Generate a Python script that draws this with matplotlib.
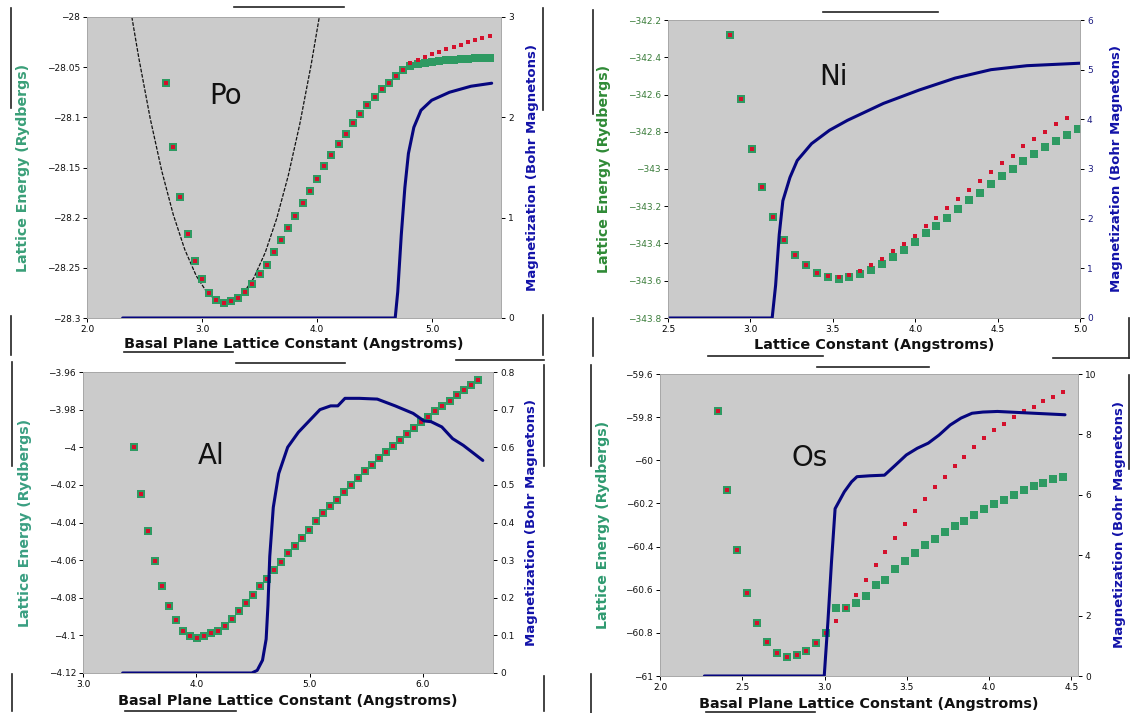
import numpy as np
import matplotlib
matplotlib.use('Agg')
import matplotlib.pyplot as plt
from matplotlib.lines import Line2D
from matplotlib.ticker import FuncFormatter

W, H = 1132, 713

# ---------------- Po ----------------
po_x = [2.6875, 2.75, 2.8125, 2.875, 2.9375, 3.0, 3.0625, 3.125, 3.1875, 3.25,
        3.3125, 3.375, 3.4375, 3.5, 3.5625, 3.625, 3.6875, 3.75, 3.8125, 3.875,
        3.9375, 4.0, 4.0625, 4.125, 4.1875, 4.25, 4.3125, 4.375, 4.4375, 4.5,
        4.5625, 4.625, 4.6875, 4.75, 4.8125, 4.875, 4.9375, 5.0, 5.0625, 5.125,
        5.1875, 5.25, 5.3125, 5.375, 5.4375, 5.5]
po_green = [-28.066, -28.130, -28.179, -28.216, -28.243, -28.261, -28.275, -28.282,
            -28.285, -28.283, -28.280, -28.274, -28.266, -28.256, -28.247, -28.234,
            -28.222, -28.210, -28.198, -28.185, -28.173, -28.161, -28.149, -28.138,
            -28.127, -28.117, -28.106, -28.097, -28.088, -28.080, -28.072, -28.066,
            -28.059, -28.053, -28.0485, -28.0468, -28.0455, -28.0445, -28.0437,
            -28.0430, -28.0425, -28.0420, -28.0416, -28.0413, -28.0410, -28.0407]
po_red = po_green[:34] + [-28.0462, -28.0429, -28.0395, -28.0368, -28.0345, -28.0321,
                          -28.0301, -28.0278, -28.0254, -28.0234, -28.0211, -28.0187]
po_mag_x = [2.31, 4.68, 4.702, 4.733, 4.764, 4.795, 4.842, 4.904, 4.997, 5.152, 5.339, 5.519]
po_mag = [0, 0, 0.26, 0.83, 1.30, 1.64, 1.90, 2.07, 2.17, 2.25, 2.31, 2.34]
po_fit_x = [2.39, 2.45, 2.55, 2.65, 2.75, 2.85, 2.95, 3.05, 3.15, 3.25, 3.35,
            3.45, 3.55, 3.65, 3.75, 3.85, 3.95, 4.02]
po_fit = [-28.000, -28.0405, -28.1013, -28.1534, -28.1969, -28.2317, -28.258, -28.2757,
          -28.2847, -28.2851, -28.2769, -28.2602, -28.2347, -28.2007, -28.1581,
          -28.1069, -28.047, -28.000]

# ---------------- Ni ----------------
ni_x = [2.875, 2.941, 3.007, 3.073, 3.139, 3.205, 3.271, 3.337, 3.403, 3.469, 3.535,
        3.601, 3.667, 3.733, 3.799, 3.865, 3.931, 3.997, 4.063, 4.129, 4.195, 4.261,
        4.327, 4.393, 4.459, 4.525, 4.591, 4.657, 4.723, 4.789, 4.855, 4.921, 4.987]
ni_green = [-342.281, -342.624, -342.892, -343.099, -343.258, -343.379, -343.464,
            -343.517, -343.559, -343.582, -343.590, -343.579, -343.565, -343.541,
            -343.509, -343.475, -343.433, -343.392, -343.346, -343.307, -343.262,
            -343.217, -343.168, -343.128, -343.082, -343.040, -343.000, -342.955,
            -342.922, -342.883, -342.852, -342.816, -342.784]
ni_red = ni_green[:9] + [-343.572, -343.578, -343.569, -343.547, -343.518, -343.482,
                         -343.442, -343.403, -343.358, -343.307, -343.262, -343.211,
                         -343.159, -343.112, -343.063, -343.018, -342.969, -342.928,
                         -342.879, -342.838, -342.801, -342.760, -342.724]
ni_mag_x = [2.5, 3.132, 3.153, 3.175, 3.197, 3.24, 3.284, 3.371, 3.48, 3.589, 3.807,
            4.024, 4.242, 4.46, 4.678, 5.0]
ni_mag = [0, 0, 0.66, 1.68, 2.36, 2.83, 3.17, 3.51, 3.78, 3.98, 4.32, 4.59, 4.83,
          5.0, 5.08, 5.13]

# ---------------- Al ----------------
al_x = [3.446, 3.508, 3.570, 3.632, 3.694, 3.756, 3.818, 3.880, 3.942, 4.004, 4.066,
        4.128, 4.190, 4.252, 4.314, 4.376, 4.438, 4.500, 4.562, 4.624, 4.686, 4.748,
        4.810, 4.872, 4.934, 4.996, 5.058, 5.120, 5.182, 5.244, 5.306, 5.368, 5.430,
        5.492, 5.554, 5.616, 5.678, 5.740, 5.802, 5.864, 5.926, 5.988, 6.050, 6.112,
        6.174, 6.236, 6.298, 6.360, 6.422, 6.484]
al_green = [-4.000, -4.0248, -4.0445, -4.0605, -4.074, -4.0845, -4.092, -4.0975,
            -4.1004, -4.1013, -4.1002, -4.099, -4.0975, -4.095, -4.0913, -4.087,
            -4.083, -4.0788, -4.074, -4.070, -4.0655, -4.061, -4.056, -4.0525, -4.048,
            -4.044, -4.039, -4.035, -4.031, -4.028, -4.024, -4.020, -4.0163, -4.0127,
            -4.0093, -4.0057, -4.0025, -3.9993, -3.996, -3.9929, -3.9896, -3.9868,
            -3.9838, -3.9807, -3.978, -3.9752, -3.9723, -3.9695, -3.9668, -3.9643]
al_red = list(al_green)
al_mag_x = [3.35, 4.49, 4.538, 4.585, 4.617, 4.633, 4.649, 4.68, 4.728, 4.807, 4.902,
            4.997, 5.092, 5.187, 5.25, 5.313, 5.44, 5.598, 5.756, 5.915, 6.01, 6.073,
            6.168, 6.263, 6.358, 6.453, 6.53]
al_mag = [0, 0, 0.007, 0.034, 0.09, 0.18, 0.31, 0.44, 0.53, 0.60, 0.64, 0.67, 0.70,
          0.71, 0.71, 0.73, 0.73, 0.728, 0.71, 0.69, 0.67, 0.668, 0.654, 0.623, 0.605,
          0.583, 0.565]

# ---------------- Os ----------------
os_x = [2.35, 2.41, 2.47, 2.53, 2.59, 2.65, 2.71, 2.77, 2.83, 2.89, 2.95, 3.01,
        3.07, 3.13, 3.19, 3.25, 3.31, 3.37, 3.43, 3.49, 3.55, 3.61, 3.67, 3.73,
        3.79, 3.85, 3.91, 3.97, 4.03, 4.09, 4.15, 4.21, 4.27, 4.33, 4.39, 4.45]
os_green = [-59.771, -60.137, -60.415, -60.616, -60.752, -60.842, -60.892, -60.911,
            -60.904, -60.882, -60.845, -60.802, -60.687, -60.687, -60.662, -60.631,
            -60.578, -60.555, -60.504, -60.465, -60.432, -60.395, -60.364, -60.333,
            -60.305, -60.280, -60.252, -60.227, -60.204, -60.182, -60.162, -60.139,
            -60.120, -60.103, -60.088, -60.077]
os_red = os_green[:12] + [-60.744, -60.687, -60.625, -60.553, -60.485, -60.423,
                          -60.361, -60.297, -60.235, -60.181, -60.126, -60.077,
                          -60.027, -59.984, -59.939, -59.898, -59.861, -59.831,
                          -59.800, -59.771, -59.751, -59.727, -59.706, -59.684]
os_mag_x = [2.27, 2.998, 3.02, 3.042, 3.064, 3.12, 3.164, 3.197, 3.275, 3.364, 3.43,
            3.497, 3.563, 3.63, 3.696, 3.763, 3.829, 3.896, 3.962, 4.051, 4.273, 4.461]
os_mag = [0, 0, 1.77, 3.77, 5.54, 6.10, 6.43, 6.6, 6.63, 6.65, 6.98, 7.32, 7.54, 7.71,
          7.98, 8.31, 8.54, 8.7, 8.74, 8.76, 8.7, 8.65]

GREEN = '#2e9a62'
RED = '#d4102c'
BLUE = '#06067e'
BG = '#cbcbcb'


def minus_fmt(v, pos):
    return ('%g' % round(v, 4)).replace('-', '\u2212')


fig = plt.figure(figsize=(W / 100, H / 100), dpi=100)


def draw_panel(box, x, green, red, mag_x, mag, xlim, yticks, mticks, xticks,
               name, name_px, xlabel, label_px, ecol, tcol, mcol):
    L, T, R, B = box
    ax = fig.add_axes([L / W, 1 - B / H, (R - L) / W, (B - T) / H])
    ax.set_facecolor(BG)
    ax.plot(x, green, 's', color=GREEN, ms=5.2, mew=0, zorder=3)
    ax.plot(x[:len(red)], red, 's', color=RED, ms=3.2, mew=0, zorder=4)
    ax.set_xlim(*xlim)
    ax.set_ylim(yticks[0], yticks[-1])
    ax.set_yticks(yticks)
    ax.set_xticks(xticks)
    ax.xaxis.set_major_formatter(FuncFormatter(lambda v, p: '%.1f' % v))
    ax.yaxis.set_major_formatter(FuncFormatter(minus_fmt))
    ax.tick_params(labelsize=6.5, length=3, width=0.7, pad=2)
    ax.tick_params(axis='y', labelcolor=tcol)

    ax2 = ax.twinx()
    ax2.plot(mag_x, mag, color=BLUE, lw=2.2, solid_capstyle='round')
    ax2.set_ylim(mticks[0], mticks[-1])
    ax2.set_yticks(mticks)
    ax2.yaxis.set_major_formatter(FuncFormatter(minus_fmt))
    ax2.tick_params(labelsize=6.5, length=3, width=0.7, pad=2, labelcolor=mcol)

    for a in (ax, ax2):
        for s in a.spines.values():
            s.set_color('#a8a8a8')
            s.set_linewidth(0.6)

    lx, rx, xy = label_px
    ax.set_ylabel('Lattice Energy (Rydbergs)', color=ecol, fontsize=10.2, fontweight='bold')
    ax.yaxis.set_label_coords((lx + 7 - L) / (R - L), 0.5)
    ax2.set_ylabel('Magnetization (Bohr Magnetons)', color='#1212a8', fontsize=9.5,
                   fontweight='bold')
    ax2.yaxis.set_label_coords((rx - 7 - L) / (R - L), 0.5)
    ax.set_xlabel(xlabel, fontsize=10.4, fontweight='bold', color='#111111')
    ax.xaxis.set_label_coords(0.5, (B - (xy - 7)) / (B - T))

    nx, ny = name_px
    ax.text((nx - L) / (R - L), (B - ny) / (B - T), name, transform=ax.transAxes,
            fontsize=20, ha='center', va='center', color='#111111')
    return ax


ax_po = draw_panel((87, 17, 501, 318), po_x, po_green, po_red, po_mag_x, po_mag,
                   (2.0, 5.6), [-28.3, -28.25, -28.2, -28.15, -28.1, -28.05, -28.0],
                   [0, 1, 2, 3], [2.0, 3.0, 4.0, 5.0], 'Po', (226, 96),
                   'Basal Plane Lattice Constant (Angstroms)', (23, 533, 344),
                   '#3a9f78', '#111111', '#111111')
ax_po.plot(po_fit_x, po_fit, color='#111111', lw=0.9, ls=(0, (3, 1.2)), zorder=2)

draw_panel((668, 20, 1080, 318), ni_x, ni_green, ni_red, ni_mag_x, ni_mag,
           (2.5, 5.0), [-343.8, -343.6, -343.4, -343.2, -343.0, -342.8, -342.6, -342.4, -342.2],
           [0, 1, 2, 3, 4, 5, 6], [2.5, 3.0, 3.5, 4.0, 4.5, 5.0], 'Ni', (834, 77),
           'Lattice Constant (Angstroms)', (604, 1117, 345),
           '#2f8a36', '#3b7d3b', '#1a1a80')

draw_panel((83, 372, 493, 673), al_x, al_green, al_red, al_mag_x, al_mag,
           (3.0, 6.62), [-4.12, -4.1, -4.08, -4.06, -4.04, -4.02, -4.0, -3.98, -3.96],
           [0, 0.1, 0.2, 0.3, 0.4, 0.5, 0.6, 0.7, 0.8], [3.0, 4.0, 5.0, 6.0], 'Al', (211, 456),
           'Basal Plane Lattice Constant (Angstroms)', (25, 532, 701),
           '#3a9f82', '#111111', '#111111')

draw_panel((660, 374, 1078, 676), os_x, os_green, os_red, os_mag_x, os_mag,
           (2.0, 4.54), [-61.0, -60.8, -60.6, -60.4, -60.2, -60.0, -59.8, -59.6],
           [0, 2, 4, 6, 8, 10], [2.0, 2.5, 3.0, 3.5, 4.0, 4.5], 'Os', (810, 458),
           'Basal Plane Lattice Constant (Angstroms)', (603, 1120, 704),
           '#2f9a70', '#111111', '#111111')

# leftover frame strokes around each panel
frame_px = [(234, 7, 344, 7), (11, 8, 11, 108), (11, 316, 11, 355), (543, 8, 543, 110),
            (543, 315, 543, 355), (124, 352, 233, 352), (456, 360, 544, 360),
            (823, 12, 938, 12), (593, 10, 593, 114), (593, 318, 593, 356),
            (1129, 318, 1129, 358), (1053, 358, 1129, 358), (708, 356, 823, 356),
            (236, 363, 345, 363), (12, 362, 12, 466), (12, 674, 12, 711),
            (544, 365, 544, 466), (544, 676, 544, 711), (125, 711, 236, 711),
            (817, 367, 929, 367), (591, 365, 591, 466), (591, 674, 591, 713),
            (1129, 375, 1129, 469), (706, 712, 815, 712)]
for x0, y0, x1, y1 in frame_px:
    fig.add_artist(Line2D([x0 / W, x1 / W], [1 - y0 / H, 1 - y1 / H],
                          transform=fig.transFigure, color='#222222', lw=1.2))

fig.savefig('out.png', dpi=100)
